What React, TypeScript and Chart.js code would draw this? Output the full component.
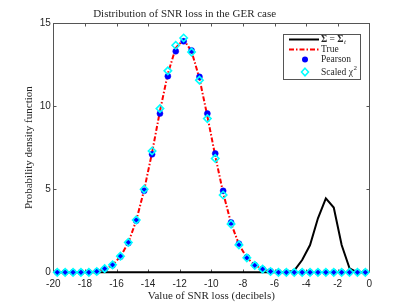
import React, { useEffect, useRef } from "react";
import { Chart, registerables } from "chart.js";

Chart.register(...registerables);

// ---- data ----
const xCenters = [
  -19.75, -19.25, -18.75, -18.25, -17.75, -17.25, -16.75, -16.25, -15.75, -15.25,
  -14.75, -14.25, -13.75, -13.25, -12.75, -12.25, -11.75, -11.25, -10.75, -10.25,
  -9.75, -9.25, -8.75, -8.25, -7.75, -7.25, -6.75, -6.25, -5.75, -5.25,
  -4.75, -4.25, -3.75, -3.25, -2.75, -2.25, -1.75, -1.25, -0.75, -0.25,
];
const sigmaTrue = [
  0, 0, 0, 0, 0, 0, 0, 0, 0, 0,
  0, 0, 0, 0, 0, 0, 0, 0, 0, 0,
  0, 0, 0, 0, 0, 0, 0, 0, 0, 0,
  0.1, 0.74, 1.64, 3.25, 4.45, 3.9, 1.64, 0.24, 0, 0,
];
const trueCurve = [
  0, 0, 0, 0, 0, 0.05, 0.21, 0.44, 0.95, 1.78,
  3.12, 4.95, 7.2, 9.7, 11.95, 13.5, 14.0, 13.3, 11.66, 9.4,
  7.0, 4.78, 2.95, 1.68, 0.88, 0.43, 0.2, 0.05, 0, 0,
  0, 0, 0, 0, 0, 0, 0, 0, 0, 0,
];
const pearson = [
  0, 0, 0, 0, 0, 0.05, 0.2, 0.42, 0.94, 1.76,
  3.1, 4.9, 7.1, 9.55, 11.8, 13.3, 13.9, 13.35, 11.76, 9.55,
  7.15, 4.9, 3.0, 1.72, 0.9, 0.44, 0.2, 0.06, 0, 0,
  0, 0, 0, 0, 0, 0, 0, 0, 0, 0,
];
const scaledChi2 = [
  0, 0, 0, 0, 0, 0.05, 0.22, 0.45, 0.97, 1.8,
  3.15, 5.0, 7.3, 9.85, 12.12, 13.66, 14.1, 13.25, 11.56, 9.25,
  6.85, 4.65, 2.9, 1.65, 0.87, 0.42, 0.19, 0.05, 0, 0,
  0, 0, 0, 0, 0, 0, 0, 0, 0, 0,
];
const xTicks = [-20, -18, -16, -14, -12, -10, -8, -6, -4, -2, 0];
const yTicks = [0, 5, 10, 15];
const titleText = "Distribution of SNR loss in the GER case";
const xLabel = "Value of SNR loss (decibels)";
const yLabel = "Probability density function";
const legendLabels = ["Σ = Σ", "True", "Pearson", "Scaled χ"];

// ---- layout / style ----
const W = 409;
const H = 307;
const PLOT_LEFT = 53.3;
const PLOT_RIGHT = 369.3;
const PLOT_BOTTOM = 272.3;
const SERIF = "'Liberation Serif', 'Times New Roman', serif";
const SANS = "'Liberation Sans', Arial, sans-serif";
const TEXT = "#262626";
const AXIS = "#555555";
const RED_DASH = [5, 2, 1.5, 2];

const toPts = (ys: number[]) => xCenters.map((x, i) => ({ x, y: ys[i] }));

const framePlugin = {
  id: "matlabFrame",
  beforeDatasetsDraw(chart: any) {
    const { ctx, chartArea: a, scales } = chart;
    const L = Math.round(a.left) + 0.5;
    const R = Math.round(a.right) + 0.5;
    const T = Math.round(a.top) + 0.5;
    const B = Math.round(a.bottom) + 0.5;
    ctx.save();
    ctx.strokeStyle = AXIS;
    ctx.lineWidth = 1;
    ctx.strokeRect(L, T, R - L, B - T);
    ctx.beginPath();
    xTicks.forEach((v) => {
      const px = Math.round(scales.x.getPixelForValue(v)) + 0.5;
      ctx.moveTo(px, B);
      ctx.lineTo(px, B - 3);
      ctx.moveTo(px, T);
      ctx.lineTo(px, T + 3);
    });
    yTicks.forEach((v) => {
      const py = Math.round(scales.y.getPixelForValue(v)) + 0.5;
      ctx.moveTo(L, py);
      ctx.lineTo(L + 3, py);
      ctx.moveTo(R, py);
      ctx.lineTo(R - 3, py);
    });
    ctx.stroke();
    ctx.restore();
  },
  afterDraw(chart: any) {
    const { ctx } = chart;
    ctx.save();
    // legend box
    const bx = 283.5, by = 34.5, bw = 77, bh = 45;
    ctx.fillStyle = "#ffffff";
    ctx.fillRect(bx, by, bw, bh);
    ctx.strokeStyle = AXIS;
    ctx.lineWidth = 1;
    ctx.strokeRect(bx, by, bw, bh);
    const x0 = 289, x1 = 319, xm = 305, tx = 321;
    const rows = [39.5, 49.5, 59.5, 72];
    // row 1: black line
    ctx.strokeStyle = "#000000";
    ctx.lineWidth = 2;
    ctx.beginPath();
    ctx.moveTo(x0, rows[0]);
    ctx.lineTo(x1, rows[0]);
    ctx.stroke();
    // row 2: red dash-dot
    ctx.strokeStyle = "#ff0000";
    ctx.setLineDash(RED_DASH);
    ctx.beginPath();
    ctx.moveTo(x0, rows[1]);
    ctx.lineTo(x1, rows[1]);
    ctx.stroke();
    ctx.setLineDash([]);
    // row 3: blue dot
    ctx.fillStyle = "#0000ff";
    ctx.beginPath();
    ctx.arc(xm, rows[2], 3, 0, Math.PI * 2);
    ctx.fill();
    // row 4: cyan diamond
    ctx.strokeStyle = "#00ffff";
    ctx.lineWidth = 1.5;
    ctx.beginPath();
    ctx.moveTo(xm, rows[3] - 3.8);
    ctx.lineTo(xm + 3.5, rows[3]);
    ctx.lineTo(xm, rows[3] + 3.8);
    ctx.lineTo(xm - 3.5, rows[3]);
    ctx.closePath();
    ctx.stroke();
    // texts
    ctx.fillStyle = TEXT;
    ctx.textBaseline = "middle";
    ctx.textAlign = "left";
    // Σ = Σ_t
    ctx.font = `bold 9.5px ${SERIF}`;
    let cx = tx;
    ctx.fillText("Σ", cx, rows[0]);
    cx += ctx.measureText("Σ").width;
    ctx.font = `9.5px ${SERIF}`;
    ctx.fillText(" = ", cx, rows[0]);
    cx += ctx.measureText(" = ").width;
    ctx.font = `bold 9.5px ${SERIF}`;
    ctx.fillText("Σ", cx, rows[0]);
    cx += ctx.measureText("Σ").width;
    ctx.font = `italic 7px ${SERIF}`;
    ctx.fillText("t", cx + 0.5, rows[0] + 2.5);
    ctx.font = `9.5px ${SERIF}`;
    ctx.fillText(legendLabels[1], tx, rows[1]);
    ctx.fillText(legendLabels[2], tx, rows[2]);
    ctx.fillText(legendLabels[3], tx, rows[3]);
    const w4 = ctx.measureText(legendLabels[3]).width;
    ctx.font = `7px ${SERIF}`;
    ctx.fillText("2", tx + w4 + 0.5, rows[3] - 4);
    ctx.restore();
  },
};

export default function App() {
  const ref = useRef<HTMLCanvasElement | null>(null);

  useEffect(() => {
    if (!ref.current) return;
    const chart = new Chart(ref.current, {
      type: "line",
      data: {
        datasets: [
          {
            label: "Sigma = Sigma_t",
            data: toPts(sigmaTrue),
            borderColor: "#000000",
            borderWidth: 2,
            pointRadius: 0,
            tension: 0,
            fill: false,
            clip: false,
            order: 4,
          },
          {
            label: "True",
            data: toPts(trueCurve),
            borderColor: "#ff0000",
            borderWidth: 2,
            borderDash: RED_DASH,
            pointRadius: 0,
            tension: 0,
            fill: false,
            clip: false,
            order: 3,
          },
          {
            label: "Pearson",
            data: toPts(pearson),
            showLine: false,
            pointStyle: "circle",
            pointRadius: 3,
            pointBorderWidth: 0.5,
            pointBackgroundColor: "#0000ff",
            pointBorderColor: "#0000ff",
            borderColor: "#0000ff",
            backgroundColor: "#0000ff",
            clip: false,
            order: 2,
          },
          {
            label: "Scaled chi2",
            data: toPts(scaledChi2),
            showLine: false,
            pointStyle: "rectRot",
            pointRadius: 3.7,
            pointBorderWidth: 1.6,
            pointBackgroundColor: "rgba(0,0,0,0)",
            pointBorderColor: "#00ffff",
            borderColor: "#00ffff",
            backgroundColor: "rgba(0,0,0,0)",
            clip: false,
            order: 1,
          },
        ],
      },
      options: {
        responsive: false,
        animation: false,
        events: [],
        layout: { padding: { left: 0, right: W - PLOT_RIGHT, top: 0, bottom: 0 } },
        plugins: {
          legend: { display: false },
          tooltip: { enabled: false },
          title: {
            display: true,
            text: titleText,
            color: TEXT,
            font: { family: SERIF, size: 11, weight: "normal" },
            padding: { top: 7.4, bottom: 2.4 },
          },
        },
        scales: {
          x: {
            type: "linear",
            min: -20,
            max: 0,
            afterBuildTicks: (s: any) => {
              s.ticks = xTicks.map((v) => ({ value: v }));
            },
            afterFit: (s: any) => {
              s.height = H - PLOT_BOTTOM;
            },
            grid: { display: false, drawTicks: false },
            border: { display: false },
            ticks: {
              color: TEXT,
              font: { family: SANS, size: 10 },
              padding: 6,
              maxRotation: 0,
              autoSkip: false,
            },
            title: {
              display: true,
              text: xLabel,
              color: TEXT,
              font: { family: SERIF, size: 11 },
              padding: { top: 0, bottom: 4.2 },
            },
          },
          y: {
            type: "linear",
            min: 0,
            max: 15,
            afterBuildTicks: (s: any) => {
              s.ticks = yTicks.map((v) => ({ value: v }));
            },
            afterFit: (s: any) => {
              s.width = PLOT_LEFT;
            },
            grid: { display: false, drawTicks: false },
            border: { display: false },
            ticks: {
              color: TEXT,
              font: { family: SANS, size: 10 },
              padding: 2.5,
            },
            title: {
              display: true,
              text: yLabel,
              color: TEXT,
              font: { family: SERIF, size: 11 },
              padding: { top: 22.4, bottom: 0 },
            },
          },
        },
      },
      plugins: [framePlugin],
    });
    return () => chart.destroy();
  }, []);

  return (
    <div style={{ position: "absolute", left: 0, top: 0, width: W, height: H }}>
      <canvas ref={ref} width={W} height={H} style={{ display: "block" }} />
    </div>
  );
}
